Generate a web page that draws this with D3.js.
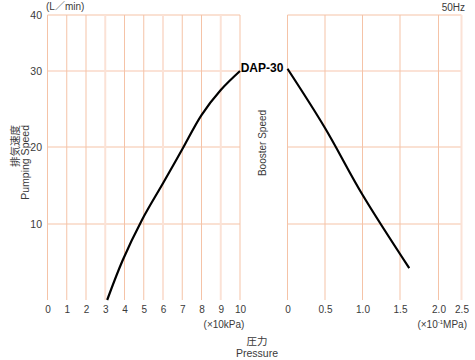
<!DOCTYPE html>
<html>
<head>
<meta charset="utf-8">
<script src="https://cdn.jsdelivr.net/npm/d3@7"></script>
<style>
  body { margin: 0; background: #fff; }
  svg text { font-family: "Liberation Sans", Arial, "Noto Sans CJK JP", sans-serif; fill: #3a3a3a; }
</style>
</head>
<body>
<div id="chart"></div>
<script>
'use strict';

// pumping speed curve (left panel), pressure in x10kPa
var pumpPressure = [3.1, 3.9, 4.9, 6.0, 7.0, 8.0, 9.0, 10.0];
var pumpSpeed = [0, 5.2, 10.5, 15.3, 19.7, 24.2, 27.5, 30];

// booster speed curve (right panel), pressure in x10^-1 MPa
var boostPressure = [0, 0.5, 1.0, 1.62];
var boostSpeed = [30.4, 22.5, 13.8, 4.2];

var leftTicks = [0, 1, 2, 3, 4, 5, 6, 7, 8, 9, 10];
var rightTicks = [0, 0.5, 1.0, 1.5, 2.0, 2.5];
var rightTickLabels = ['0', '0.5', '1.0', '1.5', '2.0', '2.5'];
var yTicks = [10, 20, 30, 40];
var lightLeft = [3, 6, 9];
var lightRight = [2.5];
var lightY = [30];

var gridColor = '#f5c3a7',
    lightColor = '#fbe2d6';

var svg = d3.select('#chart').append('svg')
    .attr('width', 475)
    .attr('height', 360);

// the original axes are not evenly spaced, so use polylinear scales
var xL = d3.scaleLinear().domain([0, 10]).range([47.5, 240]);
var xR = d3.scaleLinear().domain([0, 0.5, 1, 1.5, 2, 2.5])
    .range([287.5, 325, 362.5, 400, 438.5, 461.5]);
var y = d3.scaleLinear().domain([0, 10, 20, 30, 40]).range([300, 224, 147, 71, 15]);

var drawGrid = function(x, ticks, lights){
    var g = svg.append('g');
    // horizontal lines
    g.selectAll('.hline')
        .data(yTicks)
        .enter()
        .append('line')
        .attr('x1', x.range()[0])
        .attr('x2', x.range()[x.range().length - 1])
        .attr('y1', function(d){ return y(d); })
        .attr('y2', function(d){ return y(d); })
        .attr('stroke', function(d){ return lightY.indexOf(d) >= 0 ? lightColor : gridColor; })
        .attr('stroke-width', function(d){ return lightY.indexOf(d) >= 0 ? 2 : 1; });
    // vertical lines
    g.selectAll('.vline')
        .data(ticks)
        .enter()
        .append('line')
        .attr('x1', function(d){ return x(d); })
        .attr('x2', function(d){ return x(d); })
        .attr('y1', y(40))
        .attr('y2', y(0))
        .attr('stroke', function(d){ return lights.indexOf(d) >= 0 ? lightColor : gridColor; })
        .attr('stroke-width', function(d){ return lights.indexOf(d) >= 0 ? 2 : 1; });
};

drawGrid(xL, leftTicks, lightLeft);
drawGrid(xR, rightTicks, lightRight);

// x axes
var axL = d3.axisBottom(xL).tickValues(leftTicks).tickSize(0).tickPadding(0);
svg.append('g')
    .attr('transform', 'translate(0,306)')
    .call(axL)
    .call(function(g){ g.select('.domain').remove(); })
    .selectAll('text')
    .attr('font-size', 10)
    .attr('dy', '0.71em');

var axR = d3.axisBottom(xR).tickValues(rightTicks).tickSize(0).tickPadding(0)
    .tickFormat(function(d, i){ return rightTickLabels[i]; });
svg.append('g')
    .attr('transform', 'translate(0,306)')
    .call(axR)
    .call(function(g){ g.select('.domain').remove(); })
    .selectAll('text')
    .attr('font-size', 10)
    .attr('dy', '0.71em');

// y axis labels
var axY = d3.axisLeft(y).tickValues(yTicks).tickSize(0).tickPadding(6);
svg.append('g')
    .attr('transform', 'translate(48,0)')
    .call(axY)
    .call(function(g){ g.select('.domain').remove(); })
    .selectAll('text')
    .attr('font-size', 10.5);

svg.selectAll('.tick text').style('fill', '#3a3a3a');

// curves
var line = function(x){
    return d3.line()
        .x(function(d){ return x(d[0]); })
        .y(function(d){ return y(d[1]); })
        .curve(d3.curveCatmullRom);
};

svg.append('path')
    .datum(d3.zip(pumpPressure, pumpSpeed))
    .attr('d', line(xL))
    .attr('fill', 'none')
    .attr('stroke', '#000')
    .attr('stroke-width', 2.2);

svg.append('path')
    .datum(d3.zip(boostPressure, boostSpeed))
    .attr('d', line(xR))
    .attr('fill', 'none')
    .attr('stroke', '#000')
    .attr('stroke-width', 2.2);

// texts
svg.append('text')
    .attr('x', 262)
    .attr('y', 72)
    .attr('text-anchor', 'middle')
    .attr('font-size', 12)
    .attr('font-weight', 'bold')
    .style('fill', '#000')
    .text('DAP-30');

svg.append('text')
    .attr('x', 46)
    .attr('y', 10)
    .attr('font-size', 10)
    .text('(L／min)');

svg.append('text')
    .attr('x', 465)
    .attr('y', 11)
    .attr('text-anchor', 'end')
    .attr('font-size', 10)
    .text('50Hz');

svg.append('text')
    .attr('x', 224)
    .attr('y', 328)
    .attr('text-anchor', 'middle')
    .attr('font-size', 10)
    .text('(×10kPa)');

var mpa = svg.append('text')
    .attr('x', 467)
    .attr('y', 328)
    .attr('text-anchor', 'end')
    .attr('font-size', 10);
mpa.append('tspan').text('(×10');
mpa.append('tspan').attr('font-size', 6).attr('dy', -4).text('-1');
mpa.append('tspan').attr('dy', 4).text('MPa)');

svg.append('text')
    .attr('x', 257)
    .attr('y', 345)
    .attr('text-anchor', 'middle')
    .attr('font-size', 10.5)
    .text('圧力');

svg.append('text')
    .attr('x', 257)
    .attr('y', 357)
    .attr('text-anchor', 'middle')
    .attr('font-size', 10.5)
    .text('Pressure');

svg.append('text')
    .attr('transform', 'translate(19,125) rotate(-90)')
    .attr('text-anchor', 'end')
    .attr('font-size', 10.5)
    .text('排気速度');

svg.append('text')
    .attr('transform', 'translate(29,125) rotate(-90)')
    .attr('text-anchor', 'end')
    .attr('font-size', 10.5)
    .text('Pumping Speed');

svg.append('text')
    .attr('transform', 'translate(266,143) rotate(-90)')
    .attr('text-anchor', 'middle')
    .attr('font-size', 10)
    .text('Booster Speed');
</script>
</body>
</html>
